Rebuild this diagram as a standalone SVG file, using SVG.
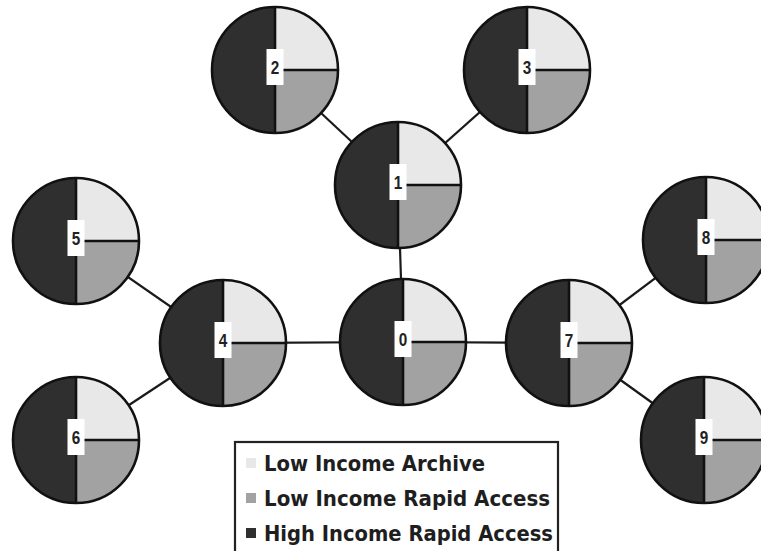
<svg xmlns="http://www.w3.org/2000/svg" xmlns:xlink="http://www.w3.org/1999/xlink" width="761" height="551" viewBox="0 0 761 551">
  <style>
    .edge { stroke: #1a1a1a; stroke-width: 2.2; fill: none; }
    .hi { fill: #2f2f2f; }
    .la { fill: #e8e8e8; }
    .lr { fill: #a2a2a2; }
    .rim { fill: none; stroke: #111; stroke-width: 2.6; }
    .div { stroke: #111; stroke-width: 2.6; }
    .tag { fill: #ffffff; }
    .num { font-family: "Liberation Sans", Arial, sans-serif; font-weight: bold; font-size: 18px; fill: #222; text-anchor: middle; }
    .legend-box { fill: #ffffff; stroke: #222; stroke-width: 2.2; }
    .legend-text { font-family: "DejaVu Sans", Verdana, sans-serif; font-weight: bold; font-size: 20.5px; fill: #1e1e1e; }
  </style>
  <defs>
    <!-- pie chart node: dark left half, light upper-right quarter, mid-grey lower-right quarter -->
    <g id="pie">
      <path class="hi" d="M0,-63 A63,63 0 0 0 0,63 Z"/>
      <path class="la" d="M0,0 L0,-63 A63,63 0 0 1 63,0 Z"/>
      <path class="lr" d="M0,0 L63,0 A63,63 0 0 1 0,63 Z"/>
      <line class="div" x1="0" y1="-63" x2="0" y2="63"/>
      <line class="div" x1="0" y1="0" x2="63" y2="0"/>
      <circle class="rim" r="63"/>
      <rect class="tag" x="-8.5" y="-21" width="17" height="36"/>
    </g>
  </defs>

  <rect width="761" height="551" fill="#ffffff"/>

  <!-- connectors -->
  <g id="connectors">
    <line class="edge" x1="403" y1="342" x2="398" y2="185"/>
    <line class="edge" x1="403" y1="342" x2="223" y2="343"/>
    <line class="edge" x1="403" y1="342" x2="569" y2="343"/>
    <line class="edge" x1="398" y1="185" x2="275" y2="70"/>
    <line class="edge" x1="398" y1="185" x2="527" y2="70"/>
    <line class="edge" x1="223" y1="343" x2="76" y2="241"/>
    <line class="edge" x1="223" y1="343" x2="76" y2="440"/>
    <line class="edge" x1="569" y1="343" x2="706" y2="240"/>
    <line class="edge" x1="569" y1="343" x2="704" y2="440"/>
  </g>

  <!-- nodes -->
  <g id="node-0" transform="translate(403,342)"><use xlink:href="#pie"/><text class="num" transform="scale(0.85,1)" x="0" y="4">0</text></g>
  <g id="node-1" transform="translate(398,185)"><use xlink:href="#pie"/><text class="num" transform="scale(0.85,1)" x="0" y="4">1</text></g>
  <g id="node-2" transform="translate(275,70)"><use xlink:href="#pie"/><text class="num" transform="scale(0.85,1)" x="0" y="4">2</text></g>
  <g id="node-3" transform="translate(527,70)"><use xlink:href="#pie"/><text class="num" transform="scale(0.85,1)" x="0" y="4">3</text></g>
  <g id="node-4" transform="translate(223,343)"><use xlink:href="#pie"/><text class="num" transform="scale(0.85,1)" x="0" y="4">4</text></g>
  <g id="node-5" transform="translate(76,241)"><use xlink:href="#pie"/><text class="num" transform="scale(0.85,1)" x="0" y="4">5</text></g>
  <g id="node-6" transform="translate(76,440)"><use xlink:href="#pie"/><text class="num" transform="scale(0.85,1)" x="0" y="4">6</text></g>
  <g id="node-7" transform="translate(569,343)"><use xlink:href="#pie"/><text class="num" transform="scale(0.85,1)" x="0" y="4">7</text></g>
  <g id="node-8" transform="translate(706,240)"><use xlink:href="#pie"/><text class="num" transform="scale(0.85,1)" x="0" y="4">8</text></g>
  <g id="node-9" transform="translate(704,440)"><use xlink:href="#pie"/><text class="num" transform="scale(0.85,1)" x="0" y="4">9</text></g>

  <!-- legend -->
  <g id="legend">
    <rect class="legend-box" x="235" y="442" width="323" height="125"/>
    <rect class="la" x="246" y="458" width="10" height="10"/>
    <rect class="lr" x="246" y="493" width="10" height="10"/>
    <rect class="hi" x="246" y="528" width="10" height="10"/>
    <text class="legend-text" x="264" y="471" textLength="221" lengthAdjust="spacingAndGlyphs">Low Income Archive</text>
    <text class="legend-text" x="264" y="506" textLength="286" lengthAdjust="spacingAndGlyphs">Low Income Rapid Access</text>
    <text class="legend-text" x="264" y="541" textLength="289" lengthAdjust="spacingAndGlyphs">High Income Rapid Access</text>
  </g>
</svg>
